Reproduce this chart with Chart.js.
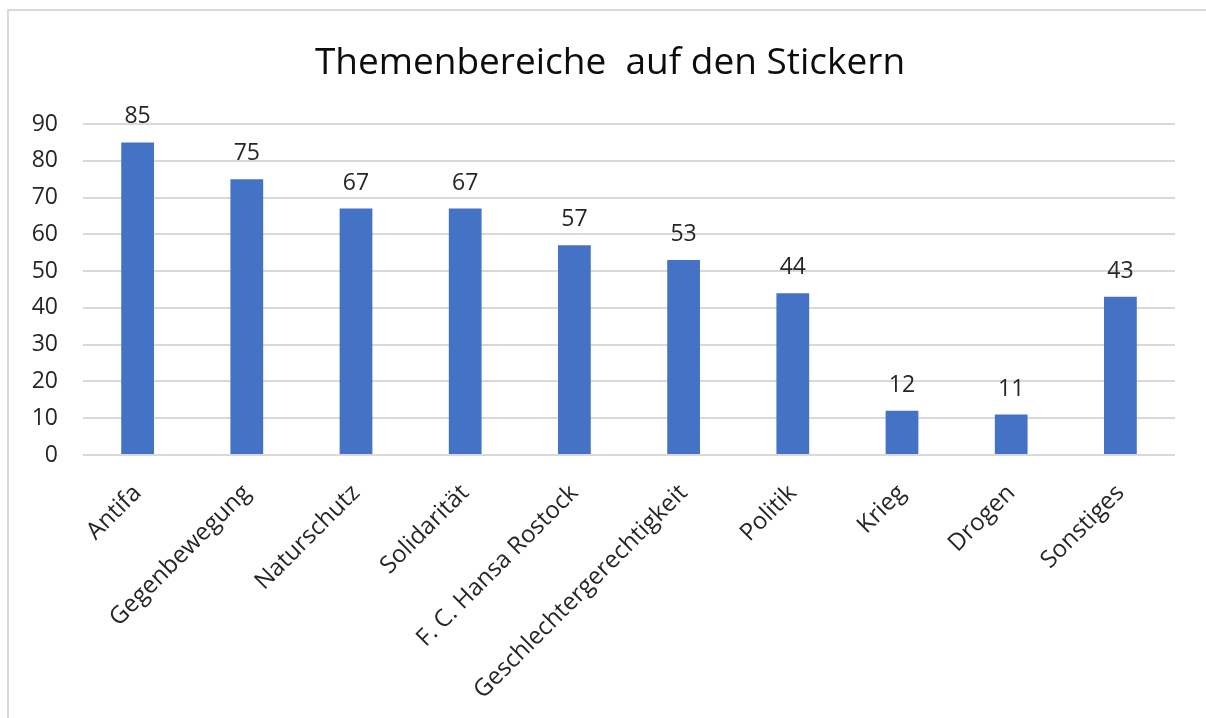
<!DOCTYPE html>
<html>
<head>
<meta charset="utf-8">
<script src="https://cdn.jsdelivr.net/npm/chart.js@4.4.1/dist/chart.umd.min.js"></script>
<style>
  html, body { margin: 0; padding: 0; background: #fff; }
  #wrap { position: relative; width: 1206px; height: 718px; }
  #frame { position: absolute; left: 7px; top: 9px; right: 0; bottom: -5px; border-top: 2px solid #d9d9d9; border-left: 2px solid #d9d9d9; pointer-events: none; }
  canvas { position: absolute; left: 0; top: 0; }
</style>
</head>
<body>
<div id="wrap">
  <canvas id="c" width="1206" height="718"></canvas>
  <div id="frame"></div>
</div>
<script>
const categories = ["Antifa", "Gegenbewegung", "Naturschutz", "Solidarität", "F. C. Hansa Rostock", "Geschlechtergerechtigkeit", "Politik", "Krieg", "Drogen", "Sonstiges"];
const values = [85, 75, 67, 67, 57, 53, 44, 12, 11, 43];
const yTicks = [0, 10, 20, 30, 40, 50, 60, 70, 80, 90];
const titleText = "Themenbereiche  auf den Stickern";

const FONT = "'Open Sans', 'Noto Sans', sans-serif";

const valueLabels = {
  id: 'valueLabels',
  afterDatasetsDraw(chart) {
    const ctx = chart.ctx;
    const meta = chart.getDatasetMeta(0);
    ctx.save();
    ctx.font = "23px " + FONT;
    ctx.fillStyle = "#262626";
    ctx.textAlign = "center";
    ctx.textBaseline = "alphabetic";
    meta.data.forEach((bar, i) => {
      ctx.fillText(String(values[i]), bar.x, bar.y - 19);
    });
    ctx.restore();
  }
};

new Chart(document.getElementById('c'), {
  type: 'bar',
  data: {
    labels: categories,
    datasets: [{
      data: values,
      backgroundColor: '#4472C4',
      borderWidth: 0,
      barPercentage: 0.3,
      categoryPercentage: 1.0
    }]
  },
  options: {
    responsive: false,
    animation: false,
    devicePixelRatio: 1,
    layout: { padding: { left: 14, right: 0, top: 0, bottom: 0 } },
    plugins: {
      legend: { display: false },
      tooltip: { enabled: false },
      title: {
        display: true,
        text: titleText,
        color: '#0d0d0d',
        font: { family: FONT, size: 37, weight: 'normal', lineHeight: 1.2 },
        padding: { top: 41, bottom: 38.6 }
      }
    },
    scales: {
      y: {
        min: 0,
        max: 90,
        afterBuildTicks(scale) { scale.ticks = yTicks.map(v => ({ value: v })); },
        afterFit(scale) { scale.width = 83 - 14; },
        border: { display: false },
        grid: { color: '#d9d9d9', lineWidth: 2, drawTicks: false },
        ticks: { color: '#262626', font: { family: FONT, size: 23 }, padding: 25 }
      },
      yRight: {
        position: 'right',
        min: 0,
        max: 90,
        afterFit(scale) { scale.width = 31; },
        border: { display: false },
        grid: { display: false, drawTicks: false },
        ticks: { display: false }
      },
      x: {
        afterFit(scale) { scale.height = 718 - 455; },
        border: { display: false },
        grid: { display: false },
        ticks: { color: '#262626', font: { family: FONT, size: 24 }, maxRotation: 45, minRotation: 45, padding: 16, autoSkip: false }
      }
    }
  },
  plugins: [valueLabels]
});
</script>
</body>
</html>
